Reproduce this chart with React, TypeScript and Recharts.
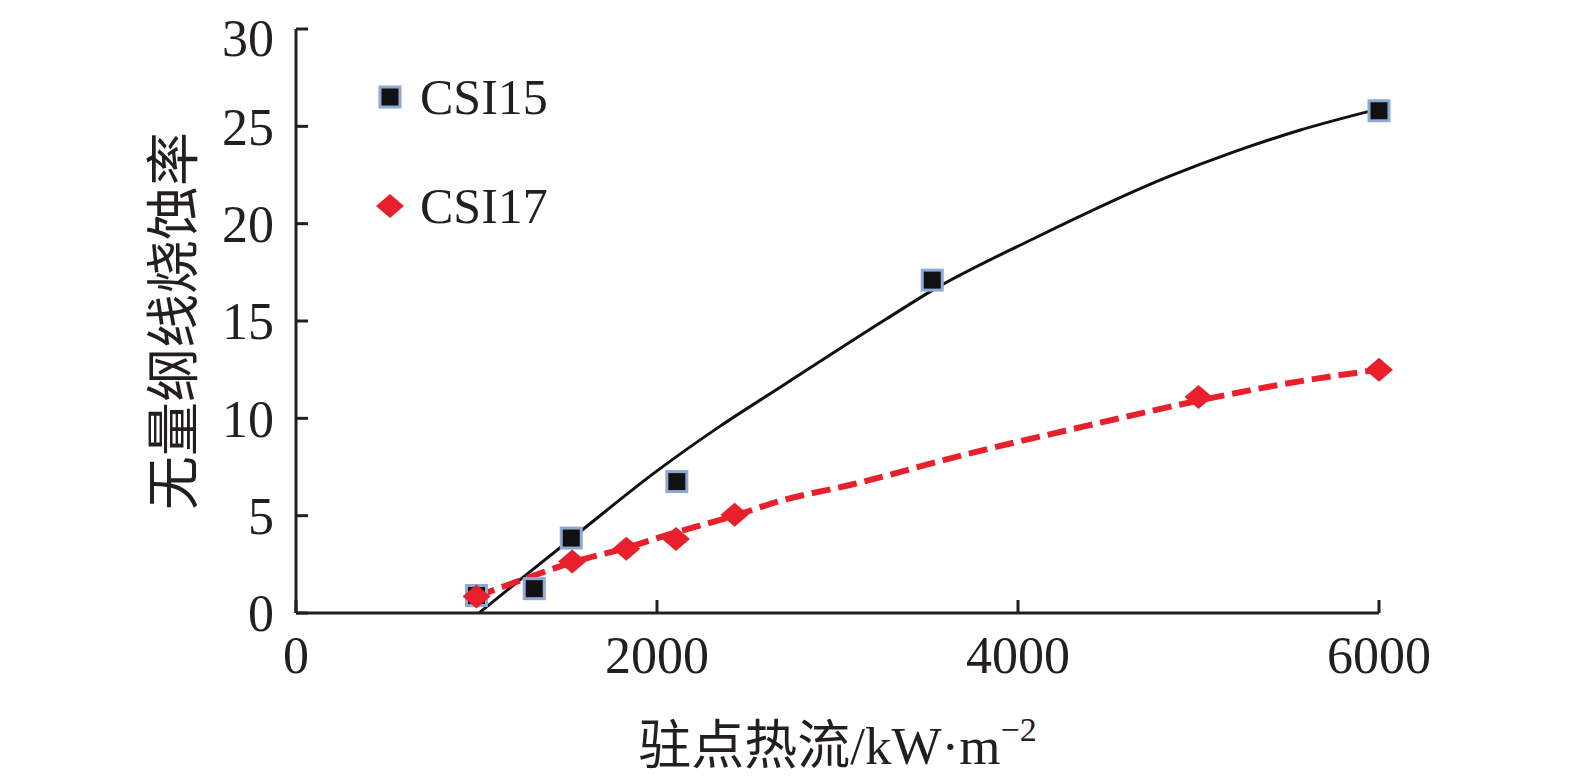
import React from "react"
import { ComposedChart, Line, Scatter, XAxis, YAxis, Legend } from "recharts"

// measured points
const csi15X = [1000, 1320, 1525, 2110, 3525, 6000]
const csi15Y = [0.9, 1.25, 3.85, 6.75, 17.1, 25.8]
const csi17X = [1000, 1530, 1830, 2105, 2430, 5000, 6000]
const csi17Y = [0.85, 2.65, 3.3, 3.8, 5.05, 11.1, 12.5]

// trend lines
const fit15X = [1014, 1280, 1570, 2000, 2350, 2700, 3270, 3530, 4080, 4830, 5200, 5560, 6000]
const fit15Y = [0, 2.0, 4.15, 7.3, 9.6, 11.7, 15.1, 16.6, 19.2, 22.4, 23.7, 24.8, 25.9]
const fit17X = [1000, 1280, 1530, 1830, 2090, 2430, 2680, 3080, 3690, 4420, 5020, 5560, 6000]
const fit17Y = [0.85, 1.8, 2.6, 3.35, 4.1, 5.0, 5.75, 6.6, 8.1, 9.7, 10.95, 11.9, 12.5]

const xTicks = [0, 2000, 4000, 6000]
const yTicks = [0, 5, 10, 15, 20, 25, 30]

const zip = (xs: number[], ys: number[]) => xs.map((x, i) => ({ x, y: ys[i] }))

const ink = "#231f20"
const red = "#e8202b"
const serif = "'Liberation Serif', 'Times New Roman', serif"
const cjk = "'Liberation Serif', 'Noto Sans CJK SC', serif"
const axisStroke = { stroke: ink, strokeWidth: 3 }

const SquareMark = (props: any) => {
  const { cx, cy } = props
  return <rect x={cx - 10} y={cy - 10} width={20} height={20} fill="#111" stroke="#8ea9d4" strokeWidth={3} />
}

const DiamondMark = (props: any) => {
  const { cx, cy } = props
  return <path d={`M${cx - 14},${cy} L${cx},${cy - 12} L${cx + 14},${cy} L${cx},${cy + 12} Z`} fill={red} />
}

const LegendBox = (props: any) => {
  const items = (props.payload || []).filter((p: any) => p.type !== "none")
  return (
    <div style={{ fontFamily: serif, fontSize: 50, color: ink }}>
      {items.map((it: any) => (
        <div key={it.value} style={{ height: 109, display: "flex", alignItems: "center" }}>
          <svg width={30} height={30} style={{ marginRight: 15 }}>
            {it.value === "CSI15" ? (
              <rect x={5} y={5} width={20} height={20} fill="#111" stroke="#8ea9d4" strokeWidth={3} />
            ) : (
              <path d="M1,15 L15,3 L29,15 L15,27 Z" fill={red} />
            )}
          </svg>
          <span>{it.value}</span>
        </div>
      ))}
    </div>
  )
}

const YTitle = (props: any) => {
  const { viewBox } = props
  const x = viewBox.x + 167
  const y = viewBox.y + viewBox.height / 2
  return (
    <text x={x} y={y} transform={`rotate(-90, ${x}, ${y})`} textAnchor="middle" dominantBaseline="central"
      fontFamily={cjk} fontSize={54} fill={ink}>
      无量纲线烧蚀率
    </text>
  )
}

const XTitle = (props: any) => {
  const { viewBox } = props
  const x = viewBox.x + viewBox.width / 2
  const y = viewBox.y + 151
  return (
    <text x={x} y={y} textAnchor="middle" fontFamily={cjk} fontSize={53} fill={ink}>
      驻点热流/kW·m<tspan fontSize={34} dy={-23}>−2</tspan>
    </text>
  )
}

export default function App() {
  return (
    <ComposedChart width={1560} height={768} margin={{ top: 21, right: 189, bottom: 0, left: 0 }}>
      <XAxis
        type="number"
        dataKey="x"
        domain={[0, 6000]}
        ticks={xTicks}
        height={163}
        tickSize={-13}
        tickMargin={36}
        axisLine={axisStroke}
        tickLine={axisStroke}
        tick={{ fill: ink, fontSize: 52, fontFamily: serif }}
        label={{ content: XTitle }}
      />
      <YAxis
        type="number"
        dataKey="y"
        domain={[0, 30]}
        ticks={yTicks}
        width={288}
        tickSize={-12}
        tickMargin={34}
        axisLine={axisStroke}
        tickLine={axisStroke}
        tick={{ fill: ink, fontSize: 52, fontFamily: serif }}
        label={{ content: YTitle }}
      />
      <Legend
        layout="horizontal"
        verticalAlign="middle"
        align="center"
        content={LegendBox}
        wrapperStyle={{ left: 367, top: 34, width: 300 }}
      />
      <Line data={zip(fit15X, fit15Y)} dataKey="y" type="monotone" stroke="#111" strokeWidth={3}
        dot={false} legendType="none" isAnimationActive={false} />
      <Line data={zip(fit17X, fit17Y)} dataKey="y" type="monotone" stroke={red} strokeWidth={6}
        strokeDasharray="19 8" dot={false} legendType="none" isAnimationActive={false} />
      <Scatter name="CSI15" data={zip(csi15X, csi15Y)} dataKey="y" shape={SquareMark} isAnimationActive={false} />
      <Scatter name="CSI17" data={zip(csi17X, csi17Y)} dataKey="y" shape={DiamondMark} isAnimationActive={false} />
    </ComposedChart>
  )
}
